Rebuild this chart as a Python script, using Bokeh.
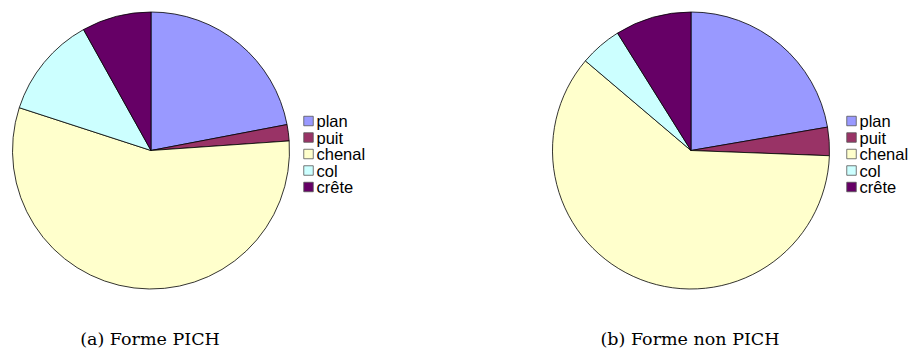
import numpy as np
from bokeh.plotting import figure
from bokeh.models import Range1d, ColumnDataSource
from bokeh.core.properties import value
from bokeh.embed import file_html
from bokeh.resources import INLINE

# ---- data ----
categories = ["plan", "puit", "chenal", "col", "crête"]
colors = ["#9999FF", "#993366", "#FFFFCC", "#CCFFFF", "#660066"]
pich_values = [22.0, 1.9, 56.1, 11.9, 8.1]
non_pich_values = [22.3, 3.3, 60.6, 4.9, 8.9]
captions = ["(a) Forme PICH", "(b) Forme non PICH"]

W, H = 914, 358
p = figure(width=W, height=H, output_backend="svg", toolbar_location=None,
           x_range=Range1d(0, W), y_range=Range1d(0, H), min_border=0)
p.axis.visible = False
p.grid.visible = False
p.outline_line_color = None

R = 138.5
# (center x, center y in screen px, values, legend square left x)
pies = [(150.5, 150, pich_values, 303), (690.5, 150, non_pich_values, 846)]

def sy(y):
    return H - y

for (cx, cy, vals, lx), cap in zip(pies, captions):
    v = np.array(vals, dtype=float)
    frac = v / v.sum()
    cum = np.concatenate([[0], np.cumsum(frac)])
    start = np.pi / 2 - cum[1:] * 2 * np.pi
    end = np.pi / 2 - cum[:-1] * 2 * np.pi
    src = ColumnDataSource(dict(start=start, end=end, color=colors))
    p.wedge(x=cx, y=sy(cy), radius=R, start_angle="start", end_angle="end",
            fill_color="color", line_color="black", line_width=0.8, source=src)
    # legend
    n = len(categories)
    ys = [sy(120.5 + 16.5 * i) for i in range(n)]
    lsrc = ColumnDataSource(dict(x=[lx + 5] * n, y=ys, color=colors,
                                 tx=[lx + 13] * n, label=categories))
    p.rect(x="x", y="y", width=9.5, height=9.5, fill_color="color",
           line_color="#555555", line_width=0.8, source=lsrc)
    p.text(x="tx", y="y", text="label", source=lsrc, text_font=value("Liberation Sans"),
           text_font_size="16.5px", text_baseline="middle", text_align="left",
           text_color="black")
    p.text(x=[cx - 1], y=[sy(338)], text=[cap], text_font=value("DejaVu Serif"),
           text_font_size="17.5px", text_baseline="middle", text_align="center",
           text_color="black")

open("out.html", "w").write(file_html(p, INLINE))
